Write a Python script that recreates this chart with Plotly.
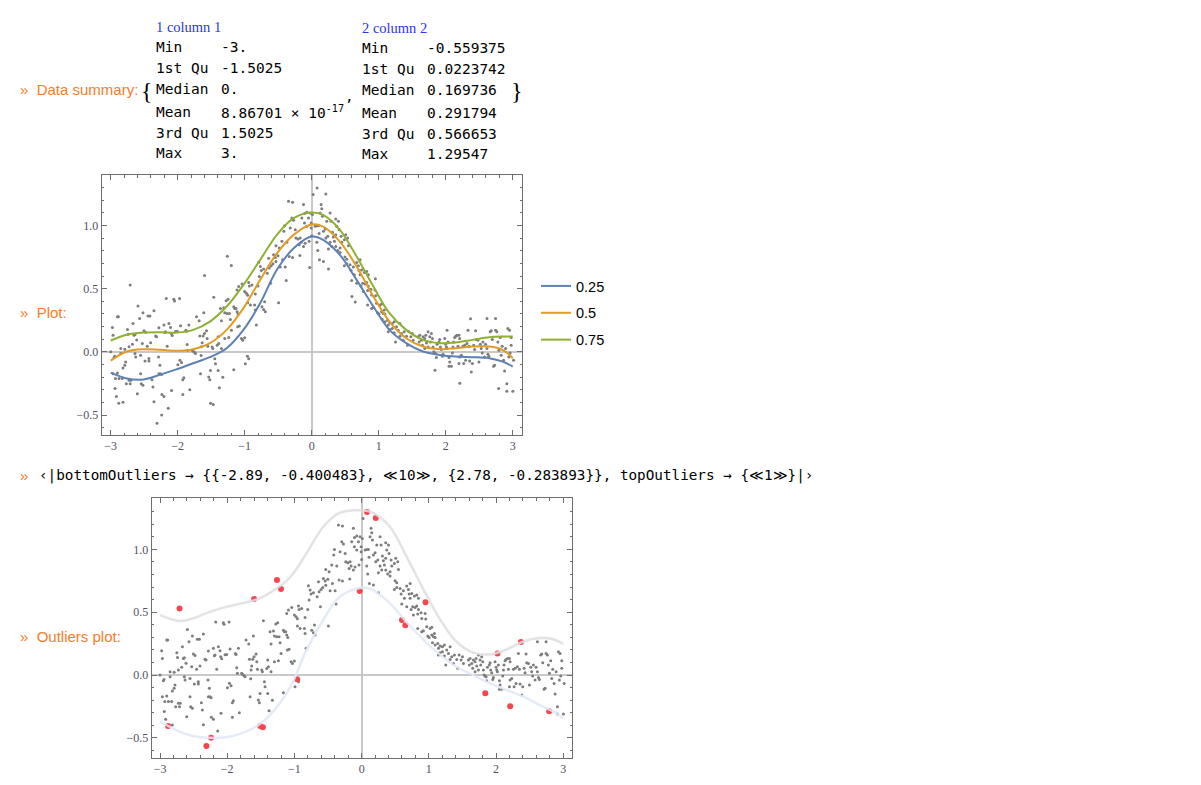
import plotly.graph_objects as go

# scatter data (x, y)
scatter_pts = [
    (-2.976, 0.193), (-2.965, 0.132), (-3.0, 0.0), (-2.95, -0.045), (-2.94, -0.035), (-2.965, -0.173),
    (-2.90, -0.167), (-2.93, -0.21), (-2.876, -0.21), (-2.936, -0.29), (-2.916, -0.353), (-2.817, -0.398),
    (-2.90, 0.278), (-2.886, 0.278), (-2.85, 0.026), (-2.79, 0.021), (-2.85, -0.013), (-2.817, -0.127),
    (-2.79, -0.106), (-2.777, -0.08), (-2.75, 0.178), (-2.74, 0.14), (-2.727, 0.04), (-2.727, -0.225),
    (-2.70, -0.225), (-2.767, -0.252), (-2.71, -0.252), (-2.827, -0.21), (-2.667, 0.225), (-2.677, 0.061),
    (-2.653, 0.132), (-2.638, 0.138), (-2.638, -0.013), (-2.628, -0.04), (-2.613, 0.093), (-2.603, -0.332),
    (-2.593, 0.363), (-2.569, 0.265), (-2.554, -0.027), (-2.554, -0.173), (-2.544, -0.252), (-2.519, 0.31),
    (-2.529, 0.066), (-2.504, 0.167), (-2.479, 0.156), (-2.489, -0.072), (-2.519, -0.265), (-2.445, 0.284),
    (-2.455, 0.045), (-2.415, 0.284), (-2.43, -0.053), (-2.43, -0.072), (-2.405, 0.072), (-2.385, -0.22),
    (-2.37, -0.278), (-2.355, 0.326), (-2.33, 0.125), (-2.316, 0.119), (-2.355, -0.395), (-2.281, 0.191),
    (-2.286, -0.04), (-2.266, -0.106), (-2.281, -0.173), (-2.256, -0.173), (-2.241, -0.18), (-2.236, -0.337),
    (-2.206, -0.353), (-2.206, 0.212), (-2.182, 0.159), (-2.192, 0.154), (-2.172, 0.422), (-2.157, 0.045),
    (-2.132, 0.225), (-2.142, -0.446), (-2.107, 0.193), (-2.097, 0.146), (-2.082, 0.13), (-2.092, -0.305),
    (-2.058, 0.416), (-2.048, 0.403), (-2.033, 0.162), (-2.008, 0.164), (-1.998, -0.101), (-1.973, 0.422),
    (-1.968, -0.066), (-1.958, 0.207), (-1.943, -0.085), (-1.924, -0.337), (-1.924, -0.22), (-1.909, -0.204),
    (-1.879, 0.172), (-1.869, 0.164), (-1.859, 0.058), (-1.849, 0.013), (-1.834, 0.212), (-1.820, -0.3),
    (-1.785, 0.013), (-1.770, 0.005), (-1.75, -0.003), (-1.735, -0.013), (-1.72, 0.278), (-1.68, 0.247),
    (-1.67, 0.125), (-1.66, -0.173), (-1.646, 0.04), (-1.636, 0.072), (-1.651, -0.029), (-1.621, 0.125),
    (-1.611, 0.31), (-1.601, 0.146), (-1.571, 0.167), (-1.561, 0.106), (-1.551, 0.045), (-1.537, -0.199),
    (-1.522, -0.22),
    (-1.462, 0.432), (-1.487, 0.039), (-1.477, 0.026), (-1.412, 0.052), (-1.388, 0.066), (-1.348, 0.026),
    (-1.397, 0.119), (-1.348, 0.246), (-1.363, 0.344), (-1.313, 0.35), (-1.298, 0.31), (-1.278, 0.405),
    (-1.249, 0.416), (-1.264, 0.304), (-1.229, 0.304), (-1.214, 0.257), (-1.199, 0.172), (-1.298, 0.106),
    (-1.239, 0.114), (-1.164, 0.357), (-1.150, 0.344), (-1.130, 0.344), (-1.115, 0.318), (-1.100, 0.299),
    (-1.090, 0.517), (-1.115, 0.49), (-1.105, 0.198), (-1.080, 0.204), (-1.050, 0.106), (-1.030, 0.092),
    (-1.001, 0.111), (-1.040, 0.538), (-1.001, 0.477), (-0.976, 0.464), (-0.956, 0.448), (-0.941, 0.549),
    (-0.931, 0.522), (-0.892, 0.53), (-0.956, 0.389), (-0.916, 0.371), (-0.852, 0.371), (-0.842, 0.458),
    (-0.842, 0.331), (-0.827, 0.212), (-0.802, 0.522), (-0.792, 0.71), (-0.767, 0.676), (-0.753, 0.644),
    (-0.782, 0.596), (-0.718, 0.655), (-0.743, 0.357), (-0.718, 0.336), (-0.703, 0.397), (-0.693, 0.318),
    (-0.663, 0.623), (-0.633, 0.663), (-0.643, 0.742), (-0.614, 0.543), (-0.604, 0.681), (-0.579, 0.697),
    (-0.569, 0.768), (-0.534, 0.84), (-0.544, 0.747), (-0.534, 0.715), (-0.504, 0.761), (-0.485, 0.822),
    (-0.470, 0.671), (-0.495, 0.389), (-0.445, 0.875), (-0.435, 0.729), (-0.415, 0.954), (-0.405, 0.999),
    (-0.395, 0.671), (-0.371, 0.867), (-0.381, 0.564), (-0.336, 0.755), (-0.346, 1.193), (-0.286, 1.185),
    (-0.321, 0.981), (-0.296, 1.06), (-0.271, 1.042), (-0.286, 0.747), (-0.246, 0.967), (-0.237, 0.901),
    (-0.207, 0.893), (-0.172, 0.901), (-0.148, 1.06), (-0.187, 0.848), (-0.157, 0.867), (-0.123, 0.835),
    (-0.098, 0.86), (-0.177, 0.763), (-0.123, 1.167), (-0.108, 1.095), (-0.073, 1.106), (-0.048, 1.06),
    (-0.024, 1.1), (-0.008, 1.021), (-0.008, 0.981), (-0.073, 0.994), (0.01, 1.087), (0.0, 0.92),
    (-0.04, 0.875), (-0.108, 1.021), (0.021, 1.246),
    (-1.447, -0.054), (-1.437, -0.094), (-1.512, -0.147), (-1.397, -0.147), (-1.328, -0.2), (-1.378, -0.284),
    (-1.164, -0.141), (-0.991, -0.094), (-0.941, -0.054),
    (0.14, 1.167), (0.15, 1.132), (0.125, 1.1), (0.10, 0.999), (0.076, 0.999), (0.051, 0.994),
    (0.11, 0.936), (0.076, 0.867), (0.09, 0.803), (0.115, 0.729), (0.175, 0.716), (0.25, 0.655),
    (0.16, 1.074), (0.175, 0.954), (0.20, 0.973), (0.21, 0.901), (0.24, 0.915), (0.224, 1.034),
    (0.274, 1.1), (0.289, 1.034), (0.309, 0.946), (0.323, 0.909), (0.358, 1.052), (0.373, 0.994),
    (0.398, 1.034), (0.408, 0.967), (0.358, 0.928), (0.274, 0.867), (0.299, 0.835), (0.249, 0.814),
    (0.338, 0.875), (0.358, 0.835), (0.388, 0.803), (0.423, 0.822), (0.438, 0.915), (0.448, 0.867),
    (0.487, 0.888), (0.507, 0.928), (0.537, 0.901), (0.547, 0.84), (0.423, 0.787), (0.497, 0.75),
    (0.522, 0.734), (0.487, 0.681), (0.522, 0.697), (0.572, 0.689), (0.587, 0.644), (0.621, 0.671),
    (0.636, 0.61), (0.596, 0.564), (0.671, 0.708), (0.696, 0.681), (0.706, 0.644), (0.721, 0.729),
    (0.745, 0.649), (0.785, 0.628), (0.82, 0.636), (0.845, 0.61), (0.721, 0.61), (0.671, 0.543),
    (0.735, 0.522), (0.76, 0.543), (0.795, 0.538), (0.82, 0.549), (0.845, 0.522), (0.77, 0.477),
    (0.834, 0.485), (0.884, 0.496), (0.894, 0.45), (0.944, 0.49), (0.954, 0.445), (0.834, 0.371),
    (0.894, 0.344), (0.919, 0.352), (0.968, 0.384), (1.018, 0.371), (1.043, 0.379), (0.983, 0.31),
    (1.003, 0.299), (1.043, 0.318), (1.083, 0.331), (1.068, 0.304), (1.093, 0.299), (1.053, 0.257),
    (1.093, 0.238), (1.132, 0.251), (1.142, 0.212), (1.167, 0.23), (1.202, 0.225), (1.231, 0.238),
    (1.167, 0.177), (1.202, 0.185), (1.142, 0.159), (1.231, 0.151), (1.266, 0.198), (1.291, 0.172),
    (1.316, 0.225), (1.251, 0.079), (1.316, 0.124), (1.341, 0.145), (1.380, 0.159), (1.365, 0.092),
    (1.415, 0.124), (1.43, 0.053), (1.45, 0.159), (1.48, 0.119), (1.50, 0.146), (1.514, 0.092),
    (1.588, 0.119), (1.613, 0.132), (1.603, 0.079), (1.638, 0.092), (1.662, 0.119), (1.687, 0.106),
    (1.652, 0.053), (1.687, 0.026), (1.712, 0.071), (1.737, 0.039), (1.702, 0.132), (1.737, 0.159),
    (1.762, 0.119), (1.772, 0.079), (1.786, 0.146), (1.801, 0.106), (1.811, 0.039), (1.821, 0.0),
    (1.836, -0.008), (1.851, -0.014), (1.861, -0.045), (1.871, 0.061), (1.9, 0.079), (1.91, 0.098),
    (1.92, 0.039), (1.935, 0.018), (1.95, -0.035), (1.96, -0.019), (1.985, 0.106), (2.0, 0.061),
    (2.01, 0.039), (2.02, 0.026), (2.034, 0.079), (2.049, -0.045), (2.059, -0.08), (2.084, -0.114),
    (2.049, -0.114), (2.099, -0.008), (2.109, 0.039), (2.119, 0.079), (2.134, 0.114), (2.148, 0.124),
    (2.168, 0.132), (2.198, 0.132), (2.208, 0.106), (2.183, 0.045), (2.198, -0.093), (2.208, -0.04),
    (2.233, -0.027), (2.258, 0.045), (2.283, 0.053), (2.297, -0.067), (2.268, -0.093), (2.317, 0.066),
    (2.332, 0.172), (2.347, 0.045), (2.357, -0.072), (2.382, -0.16), (2.397, -0.093), (2.417, 0.053),
    (2.431, 0.018), (2.446, 0.167), (2.456, 0.098), (2.481, 0.092), (2.496, -0.08), (2.516, 0.061),
    (2.530, 0.026), (2.545, -0.008), (2.555, 0.079), (2.580, -0.04), (2.595, 0.061), (2.615, 0.026),
    (2.630, -0.019), (2.644, -0.035), (2.664, 0.159), (2.679, 0.167), (2.694, 0.098), (2.714, -0.114),
    (2.729, -0.106), (2.744, 0.172), (2.763, 0.159), (2.778, 0.079), (2.793, 0.013), (2.813, 0.114),
    (2.828, -0.027), (2.843, 0.045), (2.863, -0.067), (2.878, -0.152), (2.893, 0.026), (2.912, -0.252),
    (2.927, 0.185), (2.942, -0.04), (2.952, 0.172), (2.962, -0.008), (2.977, 0.114), (2.912, -0.311),
    (3.002, -0.311), (3.012, -0.067), (2.977, 0.053), (2.615, 0.265), (2.744, 0.265),
]
pts_x = [p[0] for p in scatter_pts]
pts_y = [p[1] for p in scatter_pts]

# outliers (red in the second plot)
out_x = [-2.88, -2.71, -2.31, -2.24, -1.60, -1.51, -1.47, -1.26, -1.20, -0.96, -0.03,
         0.08, 0.21, 0.60, 0.65, 0.95, 1.84, 2.02, 2.21, 2.37, 2.79]
out_y = [-0.406, 0.53, -0.565, -0.50, 0.605, -0.406, -0.416, 0.756, 0.684, -0.034, 0.668,
         1.297, 1.25, 0.438, 0.395, 0.578, -0.146, 0.172, -0.249, 0.263, -0.289]

# quantile regression curves
curve_x = [-3, -2.76, -2.51, -2.26, -2.01, -1.77, -1.52, -1.27, -1.02, -0.77, -0.52, -0.27, 0,
           0.17, 0.42, 0.67, 0.92, 1.16, 1.41, 1.66, 1.91, 2.15, 2.40, 2.65, 2.85, 3.0]
q25 = [-0.164, -0.21, -0.218, -0.18, -0.137, -0.09, -0.042, 0.029, 0.174, 0.385, 0.65, 0.82, 0.913,
       0.887, 0.768, 0.57, 0.359, 0.174, 0.069, 0.003, -0.024, -0.037, -0.042, -0.05, -0.077, -0.116]
q50 = [-0.069, 0.003, 0.021, 0.016, 0.008, 0.021, 0.069, 0.174, 0.346, 0.57, 0.78, 0.926, 1.008,
       0.992, 0.873, 0.675, 0.438, 0.24, 0.108, 0.042, 0.021, 0.029, 0.042, 0.042, 0.016, -0.05]
q75 = [0.09, 0.135, 0.153, 0.156, 0.153, 0.174, 0.24, 0.359, 0.53, 0.728, 0.926, 1.058, 1.103,
       1.084, 0.966, 0.755, 0.517, 0.306, 0.174, 0.095, 0.069, 0.074, 0.095, 0.116, 0.121, 0.121]
quantiles = ["0.25", "0.5", "0.75"]

# outlier band curves
band_x = [-3, -2.71, -2.51, -2.27, -2.03, -1.79, -1.54, -1.30, -1.06, -0.82, -0.57, -0.33, 0,
          0.17, 0.42, 0.67, 0.92, 1.17, 1.41, 1.66, 1.91, 2.16, 2.40, 2.65, 2.85, 3.0]
band_top = [0.477, 0.43, 0.45, 0.50, 0.54, 0.57, 0.605, 0.676, 0.78, 0.97, 1.18, 1.29, 1.31,
            1.29, 1.18, 0.94, 0.68, 0.44, 0.265, 0.178, 0.164, 0.204, 0.265, 0.294, 0.284, 0.247]
band_bot = [-0.37, -0.45, -0.485, -0.50, -0.496, -0.464, -0.40, -0.28, -0.093, 0.20, 0.44, 0.62, 0.695,
            0.676, 0.57, 0.42, 0.28, 0.16, 0.066, 0.0, -0.066, -0.12, -0.17, -0.24, -0.29, -0.345]

# summary table
stat_names = ["Min", "1st Qu", "Median", "Mean", "3rd Qu", "Max"]
col1_vals = ["-3.", "-1.5025", "0.", "8.86701\u2009\u00d7\u200910<sup>-17</sup>", "1.5025", "3."]
col2_vals = ["-0.559375", "0.0223742", "0.169736", "0.291794", "0.566653", "1.29547"]

W, H = 1201, 785
OFF = 8  # page body margin
colors = ["#5e81b5", "#e19c24", "#8fb032"]
orange = "#f47d2a"
mono = "DejaVu Sans Mono"


def fx(px):
    return (px - OFF) / W


def fy(py):
    return 1 - (py - OFF) / H


fig = go.Figure()

# top plot
fig.add_trace(go.Scatter(x=pts_x + out_x, y=pts_y + out_y, mode="markers",
                         marker=dict(size=3, color="rgb(125,125,125)"),
                         showlegend=False, xaxis="x", yaxis="y"))
for name, ys, c in zip(quantiles, [q25, q50, q75], colors):
    fig.add_trace(go.Scatter(x=curve_x, y=ys, mode="lines", name=name, legendgroup=name,
                             line=dict(color=c, width=2, shape="spline", smoothing=1),
                             xaxis="x", yaxis="y"))

# outliers plot
fig.add_trace(go.Scatter(x=pts_x, y=pts_y, mode="markers",
                         marker=dict(size=3, color="rgb(125,125,125)"),
                         showlegend=False, xaxis="x2", yaxis="y2"))
fig.add_trace(go.Scatter(x=out_x, y=out_y, mode="markers",
                         marker=dict(size=6, color="rgb(245,70,80)"),
                         showlegend=False, xaxis="x2", yaxis="y2"))
fig.add_trace(go.Scatter(x=band_x, y=band_top, mode="lines",
                         line=dict(color="rgba(222,222,222,0.85)", width=2.5, shape="spline", smoothing=1),
                         showlegend=False, xaxis="x2", yaxis="y2"))
fig.add_trace(go.Scatter(x=band_x, y=band_bot, mode="lines",
                         line=dict(color="rgba(225,232,244,0.85)", width=2.5, shape="spline", smoothing=1),
                         showlegend=False, xaxis="x2", yaxis="y2"))

frame = "rgb(110,110,110)"
tickfont = dict(family="Liberation Serif", size=12, color="rgb(80,80,95)")


def xaxis(domain, rng, anchor):
    return dict(domain=domain, range=rng, anchor=anchor, showgrid=False,
                showline=True, mirror="ticks", linecolor=frame, linewidth=1,
                ticks="inside", ticklen=5, tickcolor=frame, dtick=1, tick0=0,
                minor=dict(ticks="inside", ticklen=2.5, dtick=0.2, tickcolor=frame),
                zeroline=True, zerolinecolor="rgb(200,200,200)", zerolinewidth=1.5,
                tickfont=tickfont)


def yaxis(domain, rng, anchor):
    return dict(domain=domain, range=rng, anchor=anchor, showgrid=False,
                showline=True, mirror="ticks", linecolor=frame, linewidth=1,
                ticks="inside", ticklen=5, tickcolor=frame, dtick=0.5, tick0=0,
                tickformat=".1f",
                minor=dict(ticks="inside", ticklen=2.5, dtick=0.1, tickcolor=frame),
                zeroline=True, zerolinecolor="rgb(200,200,200)", zerolinewidth=1.5,
                tickfont=tickfont)


fig.update_layout(
    width=W, height=H,
    margin=dict(l=0, r=0, t=0, b=0),
    paper_bgcolor="white", plot_bgcolor="white",
    xaxis=xaxis([fx(101.7), fx(522.3)], [-3.135, 3.143], "y"),
    yaxis=yaxis([fy(435), fy(175)], [-0.658, 1.40], "x"),
    xaxis2=xaxis([fx(151.7), fx(572.3)], [-3.124, 3.134], "y2"),
    yaxis2=yaxis([fy(757.7), fy(498.3)], [-0.658, 1.406], "x2"),
    legend=dict(x=fx(536), y=fy(270), xanchor="left", yanchor="top",
                font=dict(family="Liberation Sans", size=14.5, color="black"),
                traceorder="grouped", tracegroupgap=5, bgcolor="rgba(0,0,0,0)"),
)


def note(text, px, py, size=14.5, color="black", family=mono):
    fig.add_annotation(text=text, x=fx(px), y=fy(py), xref="paper", yref="paper",
                       xanchor="left", yanchor="middle", showarrow=False,
                       font=dict(family=family, size=size, color=color))


# cell labels
note("\u00bb  Data summary:", 18, 90, size=15, color=orange, family="Liberation Sans")
note("\u00bb  Plot:", 18, 312, size=15, color=orange, family="Liberation Sans")
note("\u00bb  Outliers plot:", 18, 636, size=15, color=orange, family="Liberation Sans")

# summary table
row_y = [47.5, 68.5, 89.5, 112, 133, 153.5]
note("1 column 1", 154, 27, size=14.5, color="#2a35e8", family="Liberation Serif")
note("2 column 2", 360, 28.5, size=14.5, color="#2a35e8", family="Liberation Serif")
for name, v1, v2, ry in zip(stat_names, col1_vals, col2_vals, row_y):
    note(name, 154, ry)
    note(v1, 219, ry)
    note(name, 360, ry + 1)
    note(v2, 425, ry + 1)
note("{", 139, 91, size=24, family="Liberation Serif")
note("}", 509, 91, size=24, family="Liberation Serif")
note(",", 343, 96)

# association output
note("\u00bb", 18, 475, size=15, color=orange, family="Liberation Sans")
note("\u2039|bottomOutliers \u2192 {{-2.89, -0.400483}, \u226a10\u226b, {2.78, -0.283893}}, "
     "topOutliers \u2192 {\u226a1\u226b}|\u203a", 37, 475, size=14.3)

fig.write_html("out.html")
